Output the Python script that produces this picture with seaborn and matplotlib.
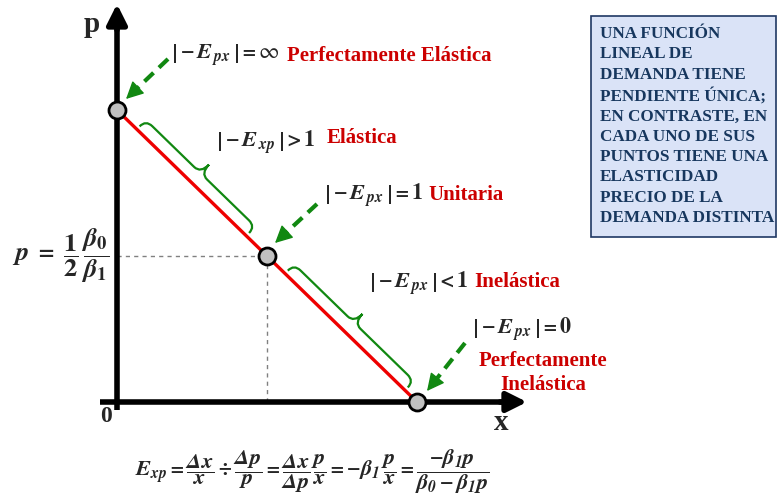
import numpy as np
import pandas as pd
import seaborn as sns
import matplotlib
matplotlib.use("Agg")
import matplotlib.pyplot as plt
from matplotlib.path import Path
from matplotlib.patches import PathPatch, Rectangle

# ---- data ----
beta0 = 10.0
beta1 = 1.0
p_points = [beta0 / beta1, 0.5 * beta0 / beta1, 0.0]      # p at the three marked points
x_points = [beta0 - beta1 * p for p in p_points]          # x = beta0 - beta1 p
point_labels = ["Perfectamente Elástica", "Unitaria", "Perfectamente Inelástica"]
segment_labels = ["Elástica", "Inelástica"]
box_text = ("UNA FUNCIÓN\nLINEAL DE\nDEMANDA TIENE\nPENDIENTE ÚNICA;\n"
            "EN CONTRASTE, EN\nCADA UNO DE SUS\nPUNTOS TIENE UNA\n"
            "ELASTICIDAD\nPRECIO DE LA\nDEMANDA DISTINTA")

sns.set_theme(style="white")
plt.rcParams["font.family"] = ["Liberation Serif", "DejaVu Serif"]
plt.rcParams["mathtext.fontset"] = "stix"
plt.rcParams["mathtext.default"] = "bfit"

fig = plt.figure(figsize=(7.79, 5.0), dpi=100)
ax = fig.add_axes([0, 0, 1, 1])
SX, SY, OX, OY = 30.0, 29.2, 117.0, 402.0
ax.set_xlim(-OX / SX, (779 - OX) / SX)
ax.set_ylim(-(500 - OY) / SY, OY / SY)
ax.axis("off")

def P(px, py):
    return ((px - OX) / SX, (OY - py) / SY)

def topx(x, y):
    return (OX + SX * x, OY - SY * y)

RED = "#ee0000"
DRED = "#cc0000"
GREEN = "#118811"

# guide lines
xm, pm = x_points[1], p_points[1]
ax.plot([0, xm], [pm, pm], color="#808080", lw=1, ls=(0, (3, 3)), zorder=2)
ax.plot([xm, xm], [0, pm], color="#808080", lw=1, ls=(0, (3, 3)), zorder=2)

# axes with arrows
ax.plot([P(100, 0)[0], P(505, 0)[0]], [0, 0], color="black", lw=4, zorder=3, solid_capstyle="butt")
ax.plot([0, 0], [P(0, 410)[1], P(0, 22)[1]], color="black", lw=4, zorder=3, solid_capstyle="butt")
ax.annotate("", xy=P(527, 402), xytext=P(500, 402),
            arrowprops=dict(arrowstyle="-|>,head_length=1.0,head_width=0.5", color="black", lw=4,
                            shrinkA=0, shrinkB=0), zorder=3)
ax.annotate("", xy=P(117, 4), xytext=P(117, 30),
            arrowprops=dict(arrowstyle="-|>,head_length=1.0,head_width=0.5", color="black", lw=4,
                            shrinkA=0, shrinkB=0), zorder=3)

# demand line and points
df = pd.DataFrame({"x": x_points, "p": p_points})
sns.lineplot(data=df, x="x", y="p", color=RED, lw=2.4, ax=ax, zorder=4, sort=False)
sns.scatterplot(data=df, x="x", y="p", s=150, color="#c0c0c0", edgecolor="black",
                linewidth=2, ax=ax, zorder=6)
ax.set_xlabel("")
ax.set_ylabel("")

# braces along the line
sx, sy = topx(x_points[0], p_points[0])
ex, ey = topx(x_points[2], p_points[2])
L = np.hypot(ex - sx, ey - sy)
u = np.array([(ex - sx) / L, (ey - sy) / L])
n = np.array([u[1], -u[0]])  # up-right normal in pixel coords

def brace(t0, t1, base=4.0, mid=13.0, tip=25.0, r=9.0):
    a0, a1 = t0 * L, t1 * L
    am = 0.5 * (a0 + a1)
    local = [
        (a0, base), (a0, mid), (a0 + r, mid),
        (am - r, mid), (am, mid), (am, tip),
        (am, mid), (am + r, mid),
        (a1 - r, mid), (a1, mid), (a1, base),
    ]
    codes = [Path.MOVETO, Path.CURVE3, Path.CURVE3,
             Path.LINETO, Path.CURVE3, Path.CURVE3,
             Path.CURVE3, Path.CURVE3,
             Path.LINETO, Path.CURVE3, Path.CURVE3]
    verts = []
    for a, v in local:
        px = sx + a * u[0] + v * n[0]
        py = sy + a * u[1] + v * n[1]
        verts.append(P(px, py))
    ax.add_patch(PathPatch(Path(verts, codes), fill=False, ec=GREEN, lw=1.6, zorder=5))

brace(0.066, 0.431)
brace(0.56, 0.96)

# dashed arrows
def darrow(p0, p1):
    x0, y0 = p0
    x1, y1 = p1
    d = np.hypot(x1 - x0, y1 - y0)
    ux, uy = (x1 - x0) / d, (y1 - y0) / d
    bx, by = x1 - ux * 12, y1 - uy * 12
    ax.plot([P(x0, y0)[0], P(bx, by)[0]], [P(x0, y0)[1], P(bx, by)[1]],
            color=GREEN, lw=3, ls=(0, (3, 1.8)), solid_capstyle="butt", zorder=5)
    ax.annotate("", xy=P(x1, y1), xytext=P(bx + ux * 2, by + uy * 2),
                arrowprops=dict(arrowstyle="-|>,head_length=0.9,head_width=0.45",
                                color=GREEN, lw=1, shrinkA=0, shrinkB=0), zorder=5)

darrow((168, 59), (126, 99))
darrow((317, 204), (275, 243))
darrow((465, 343), (427, 391))

# formula labels
fs = 16
lfs = 15
def absE(sub):
    return r"\left|-E_{\,%s}\,\right|" % sub

ax.text(*P(171, 56), r"$%s=\mathrm{\infty}$" % absE("px"), fontsize=fs, va="center", ha="left")
ax.text(*P(287, 56), point_labels[0], fontsize=lfs, fontweight="bold", color=DRED, va="center", ha="left")

ax.text(*P(216, 143), r"$%s>\mathbf{1}$" % absE("xp"), fontsize=fs, va="center", ha="left")
ax.text(*P(327, 138), segment_labels[0], fontsize=lfs, fontweight="bold", color=DRED, va="center", ha="left")

ax.text(*P(324, 196), r"$%s=\mathbf{1}$" % absE("px"), fontsize=fs, va="center", ha="left")
ax.text(*P(428, 195), point_labels[1], fontsize=lfs, fontweight="bold", color=DRED, va="center", ha="left")

ax.text(*P(369, 284), r"$%s<\mathbf{1}$" % absE("px"), fontsize=fs, va="center", ha="left")
ax.text(*P(474, 282), segment_labels[1], fontsize=lfs, fontweight="bold", color=DRED, va="center", ha="left")

ax.text(*P(472, 330), r"$%s=\mathbf{0}$" % absE("px"), fontsize=fs, va="center", ha="left")
ax.text(*P(543, 373), point_labels[2].replace(" ", "\n"), fontsize=lfs, fontweight="bold",
        color=DRED, va="center", ha="center", linespacing=1.2)

# axis labels
ax.text(*P(92, 24), "p", fontsize=21, fontweight="bold", ha="center", va="center")
ax.text(*P(501, 423), "x", fontsize=21, fontweight="bold", ha="center", va="center")
ax.text(*P(106, 417), "0", fontsize=17, fontweight="bold", ha="center", va="center")

ax.text(*P(61, 256),
        r"$p\ =\ \dfrac{\mathbf{1}}{\mathbf{2}}\,\dfrac{\beta_{\mathbf{0}}}{\beta_{\mathbf{1}}}$",
        fontsize=19, ha="center", va="center")

# bottom formula
ax.text(*P(312, 472),
        r"$E_{xp}=\dfrac{\Delta x}{x}\div\dfrac{\Delta p}{p}=\dfrac{\Delta x}{\Delta p}\,\dfrac{p}{x}"
        r"=-\beta_1\,\dfrac{p}{x}=\dfrac{-\beta_1 p}{\beta_0-\beta_1 p}$",
        fontsize=16, ha="center", va="center")

# info box
x0b, y0b = P(591, 237)
x1b, y1b = P(776, 16)
ax.add_patch(Rectangle((x0b, y0b), x1b - x0b, y1b - y0b, facecolor="#dae3f7",
                       edgecolor="#1f3864", lw=1.2, zorder=2))
ax.text(*P(600, 126), box_text, fontsize=12.3, fontweight="bold", color="#17375e",
        ha="left", va="center", linespacing=1.36, zorder=3)

fig.savefig("out.png", dpi=100)
